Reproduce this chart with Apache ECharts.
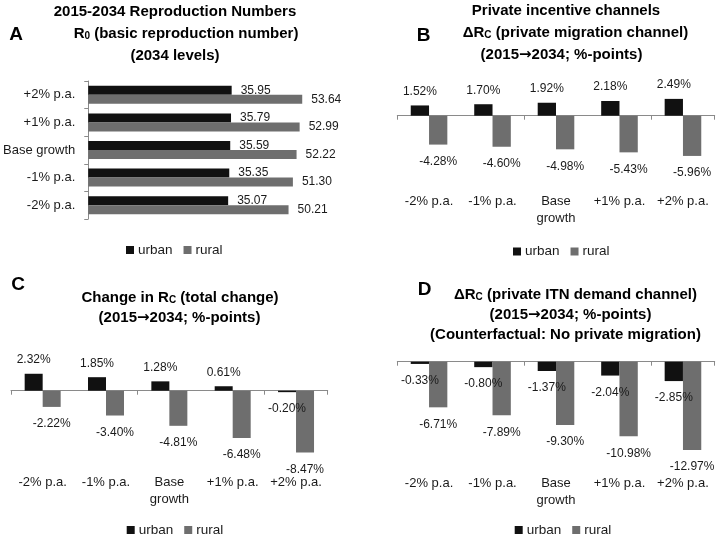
<!DOCTYPE html>
<html><head><meta charset="utf-8">
<script src="https://cdn.jsdelivr.net/npm/echarts@6/dist/echarts.min.js"></script>
<style>html,body{margin:0;padding:0;background:#fff}#c{width:717px;height:540px}</style>
</head><body><div id="c"></div>
<script>
// ---- data ----
const scenarios = ['-2% p.a.', '-1% p.a.', 'Base growth', '+1% p.a.', '+2% p.a.'];
const seriesNames = ['urban', 'rural'];
// Panel A: R0 (2034 levels)
const r0Urban = [35.07, 35.35, 35.59, 35.79, 35.95];
const r0Rural = [50.21, 51.30, 52.22, 52.99, 53.64];
// Panel B: private migration channel
const migUrban = [1.52, 1.70, 1.92, 2.18, 2.49];
const migRural = [-4.28, -4.60, -4.98, -5.43, -5.96];
// Panel C: total change
const totUrban = [2.32, 1.85, 1.28, 0.61, -0.20];
const totRural = [-2.22, -3.40, -4.81, -6.48, -8.47];
// Panel D: private ITN demand channel
const itnUrban = [-0.33, -0.80, -1.37, -2.04, -2.85];
const itnRural = [-6.71, -7.89, -9.30, -10.98, -12.97];

// ---- styles ----
const FONT = 'Liberation Sans';
const URBAN = '#111111', RURAL = '#6e6e6e', AXIS = '#8a8a8a', TXT = '#1a1a1a';

const chart = echarts.init(document.getElementById('c'), null, {renderer: 'canvas'});

const grids = [
  {left: 86, top: 81, width: 241.6, height: 138},
  {left: 397.3, top: 88.7, width: 317.4, height: 94.5},
  {left: 11, top: 361.5, width: 316.7, height: 102.2},
  {left: 397.3, top: 354.9, width: 317.4, height: 102}
];

const xAxes = [], yAxes = [], series = [];

// Panel A (horizontal)
xAxes.push({type: 'value', gridIndex: 0, min: 0, max: 60, show: false});
yAxes.push({type: 'category', gridIndex: 0, data: scenarios,
  axisLine: {show: true, lineStyle: {color: AXIS, width: 1}},
  axisTick: {show: true, length: 4, lineStyle: {color: AXIS}},
  axisLabel: {margin: 13, fontFamily: FONT, fontSize: 13, color: TXT}});
function aLabel() {
  return {show: true, position: 'right', distance: 9, fontFamily: FONT, fontSize: 12, color: TXT,
    formatter: p => p.value.toFixed(2)};
}
series.push({name: 'urban', type: 'bar', xAxisIndex: 0, yAxisIndex: 0, data: r0Urban,
  barWidth: 9, barGap: '0%', itemStyle: {color: URBAN}, label: aLabel()});
series.push({name: 'rural', type: 'bar', xAxisIndex: 0, yAxisIndex: 0, data: r0Rural,
  barWidth: 9, barGap: '0%', itemStyle: {color: RURAL}, label: aLabel()});

// Panels B, C, D (vertical)
function vertical(g, urban, rural, ymin, ymax, labMargin, barW) {
  const xl = xAxes.length;
  xAxes.push({type: 'category', gridIndex: g, data: scenarios, position: 'bottom',
    axisLine: {show: true, onZero: true, lineStyle: {color: AXIS, width: 1}},
    axisTick: {show: true, length: 4, lineStyle: {color: AXIS}},
    axisLabel: {show: false}});
  xAxes.push({type: 'category', gridIndex: g, data: scenarios, position: 'bottom',
    axisLine: {show: false, onZero: false}, axisTick: {show: false},
    axisLabel: {interval: 0, margin: labMargin, fontFamily: FONT, fontSize: 13, lineHeight: 17, color: TXT,
      formatter: s => s.replace(' growth', '\ngrowth')}});
  const yi = yAxes.length;
  yAxes.push({type: 'value', gridIndex: g, min: ymin, max: ymax, show: false, splitLine: {show: false}});
  const lab = {show: true, position: 'outside', fontFamily: FONT, fontSize: 12, color: TXT,
    formatter: p => p.value.toFixed(2) + '%'};
  const mk = arr => arr.map(v => ({value: v, label: {distance: v < 0 ? 11 : 8}}));
  series.push({name: 'urban', type: 'bar', xAxisIndex: xl, yAxisIndex: yi, data: mk(urban),
    barWidth: barW, barGap: '0%', itemStyle: {color: URBAN}, label: lab});
  series.push({name: 'rural', type: 'bar', xAxisIndex: xl, yAxisIndex: yi, data: mk(rural),
    barWidth: barW, barGap: '0%', itemStyle: {color: RURAL}, label: lab});
}
vertical(1, migUrban, migRural, -10, 4, 10, 18.3);
vertical(2, totUrban, totRural, -10, 4, 10.5, 18);
vertical(3, itnUrban, itnRural, -14, 1, 18, 18.3);

function legend(left, top) {
  return {data: seriesNames, left: left, top: top, padding: 0, icon: 'rect', itemWidth: 8, itemHeight: 8,
    itemGap: 11, selectedMode: false, textStyle: {fontFamily: FONT, fontSize: 13.5, color: TXT, padding: [0, 0, 0, -1]}};
}

const B = {fontFamily: FONT, fontSize: 15, fontWeight: 'bold', fill: '#000', verticalAlign: 'bottom', lineHeight: 18};
const S = {fontFamily: FONT, fontSize: 10, fontWeight: 'bold', fill: '#000', verticalAlign: 'bottom', lineHeight: 13};
const AR = {fontFamily: 'DejaVu Sans', fontSize: 15, fontWeight: 'bold', fill: '#000', verticalAlign: 'bottom', lineHeight: 18};
function title(x, y, text) {
  return {type: 'text', x: x, y: y, style: {text: text, rich: {b: B, s: S, a: AR}, align: 'center', verticalAlign: 'middle',
    font: 'bold 15px ' + FONT, fill: '#000'}};
}
function letter(x, y, t) {
  return {type: 'text', x: x, y: y, style: {text: t, align: 'center', verticalAlign: 'middle',
    font: 'bold 19px ' + FONT, fill: '#000'}};
}

const graphics = [
  letter(16, 35, 'A'),
  title(175, 10, '{b|2015-2034 Reproduction Numbers}'),
  title(186, 32, '{b|R}{s|0}{b| (basic reproduction number)}'),
  title(175, 54, '{b|(2034 levels)}'),
  letter(423.5, 36, 'B'),
  title(566, 9, '{b|Private incentive channels}'),
  title(575.5, 31.7, '{b|ΔR}{s|C}{b| (private migration channel)}'),
  title(561.5, 53.3, '{b|(2015}{a|→}{b|2034; %-points)}'),
  letter(18, 285, 'C'),
  title(180, 296.7, '{b|Change in R}{s|C}{b| (total change)}'),
  title(179.5, 316.7, '{b|(2015}{a|→}{b|2034; %-points)}'),
  letter(424.5, 290, 'D'),
  title(575.5, 293.3, '{b|ΔR}{s|C}{b| (private ITN demand channel)}'),
  title(570.5, 313.3, '{b|(2015}{a|→}{b|2034; %-points)}'),
  title(565.5, 333.3, '{b|(Counterfactual: No private migration)}')
];

chart.setOption({
  animation: false,
  backgroundColor: '#fff',
  grid: grids,
  xAxis: xAxes,
  yAxis: yAxes,
  series: series,
  legend: [legend(126, 243), legend(513, 244.5), legend(126.7, 523), legend(514.7, 523)],
  graphic: {elements: graphics}
});
</script></body></html>
